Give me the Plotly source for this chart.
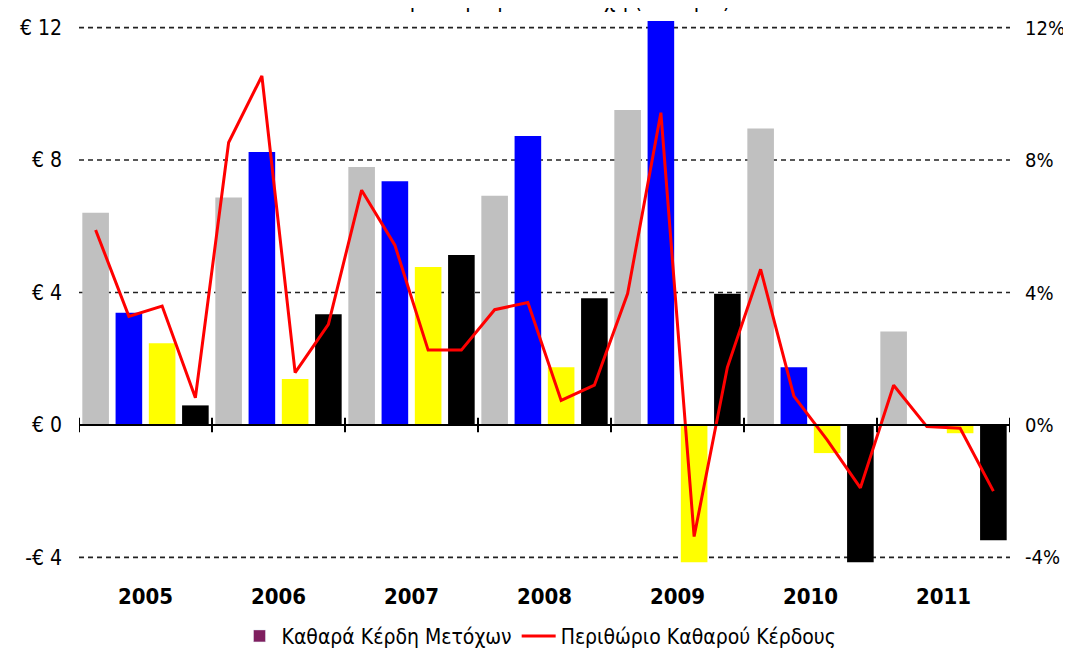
import plotly.graph_objects as go

years = ["2005", "2006", "2007", "2008", "2009", "2010", "2011"]
quarter_colors = ["#C0C0C0", "#0000FF", "#FFFF00", "#000000"]

# Net earnings per share (€), quarterly, 2005Q1..2011Q4
eps = [6.41, 3.39, 2.47, 0.59,
       6.87, 8.24, 1.39, 3.34,
       7.79, 7.36, 4.77, 5.13,
       6.92, 8.73, 1.74, 3.83,
       9.51, 12.2, -4.15, 3.96,
       8.95, 1.74, -0.85, -4.15,
       2.82, 0.0, -0.25, -3.48]

# Net profit margin (%), quarterly
margin = [5.89, 3.28, 3.59, 0.82,
          8.53, 10.54, 1.58, 3.04,
          7.09, 5.43, 2.26, 2.26,
          3.48, 3.70, 0.74, 1.20,
          3.97, 9.43, -3.37, 1.74,
          4.70, 0.87, -0.45, -1.90,
          1.20, -0.05, -0.10, -2.00]

left_ticks = [-4, 0, 4, 8, 12]
left_text = ["-€ 4", "€ 0", "€ 4", "€ 8", "€ 12"]
right_ticks = [-4, 0, 4, 8, 12]
right_text = ["-4%", "0%", "4%", "8%", "12%"]

bar_name = "Καθαρά Κέρδη Μετόχων"
line_name = "Περιθώριο Καθαρού Κέρδους"
title_text = "Καθαρά Κέρδη ανά Μετοχή (σε ευρώ)"

n = len(eps)
xs = list(range(n))
colors = [quarter_colors[i % 4] for i in range(n)]
yr = [-4.2, 12.2]

fig = go.Figure()
fig.add_trace(go.Bar(x=xs, y=eps, marker=dict(color=colors, line=dict(width=0)),
                     showlegend=False, yaxis="y"))
fig.add_trace(go.Bar(x=[None], y=[None], name=bar_name,
                     marker=dict(color="#7F1F5F"), showlegend=True))
fig.add_trace(go.Scatter(x=xs, y=margin, mode="lines", name=line_name,
                         line=dict(color="#FF0000", width=3), yaxis="y2"))

# grid lines (dashed) at non-zero ticks
for v in left_ticks:
    if v != 0:
        fig.add_shape(type="line", xref="x", yref="y", x0=-0.5, x1=n - 0.5, y0=v, y1=v,
                      line=dict(color="#222222", width=1.6, dash="5px,4px"), layer="below")
# category axis at zero with crossing ticks
fig.add_shape(type="line", xref="x", yref="y", x0=-0.5, x1=n - 0.5, y0=0, y1=0,
              line=dict(color="#000000", width=2))
for k in range(len(years) + 1):
    xb = -0.5 + 4 * k
    fig.add_shape(type="line", xref="x", yref="y", x0=xb, x1=xb, y0=-0.22, y1=0.22,
                  line=dict(color="#000000", width=2))

font_family = "DejaVu Sans Condensed, Liberation Sans Narrow, sans-serif"

fig.update_layout(
    width=1063, height=645,
    margin=dict(l=71, r=61, t=13, b=89),
    paper_bgcolor="white", plot_bgcolor="white",
    bargap=0.2,
    font=dict(family=font_family, color="#000000"),
    title=dict(text=title_text, x=0.5, xanchor="center", xref="paper",
               yref="container", y=1.0, yanchor="bottom",
               font=dict(size=22, family=font_family, color="#000000")),
    xaxis=dict(range=[-0.5, n - 0.5], tickvals=[1.5 + 4 * i for i in range(len(years))],
               ticktext=["<b>%s</b>" % y for y in years], showgrid=False, zeroline=False,
               showline=False, ticks="", automargin=False,
               tickfont=dict(size=22, family=font_family), ticklabelstandoff=17),
    yaxis=dict(range=yr, tickvals=left_ticks, ticktext=left_text, showgrid=False,
               zeroline=False, showline=False, ticks="", tickfont=dict(size=21),
               ticklabelstandoff=16, automargin=False),
    yaxis2=dict(range=yr, tickvals=right_ticks, ticktext=right_text, overlaying="y",
                side="right", showgrid=False, zeroline=False, showline=False, ticks="",
                tickfont=dict(size=20), ticklabelstandoff=14, automargin=False),
    legend=dict(orientation="h", x=0.5, xanchor="center", xref="container",
                y=0.026, yref="container", yanchor="middle",
                font=dict(size=21, family=font_family), itemwidth=34,
                traceorder="normal"),
)

fig.write_html("out.html")
